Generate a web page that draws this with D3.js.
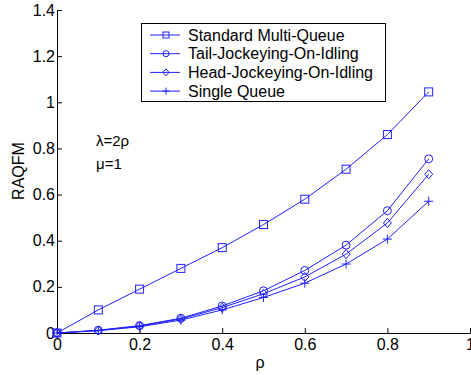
<!DOCTYPE html>
<html><head><meta charset="utf-8">
<script src="https://cdn.jsdelivr.net/npm/d3@7"></script>
<style>body{margin:0;background:#fff}svg{display:block}text{font-family:"Liberation Sans",Arial,sans-serif}</style>
</head><body><svg id="c" width="471" height="375"></svg>
<script>
const rho = [0,0.1,0.2,0.3,0.4,0.5,0.6,0.7,0.8,0.9];
const standardMQ = [0,0.10,0.19,0.28,0.37,0.47,0.58,0.71,0.86,1.045];
const tailJOI = [0,0.012,0.032,0.064,0.117,0.183,0.271,0.381,0.53,0.755];
const headJOI = [0,0.011,0.03,0.061,0.11,0.17,0.243,0.342,0.477,0.688];
const singleQ = [0,0.010,0.027,0.056,0.10,0.154,0.216,0.299,0.407,0.571];
const seriesNames = ["Standard Multi-Queue","Tail-Jockeying-On-Idling","Head-Jockeying-On-Idling","Single Queue"];
const seriesMarkers = ["square","circle","diamond","plus"];
const xTicks = [0,0.2,0.4,0.6,0.8,1];
const yTicks = [0,0.2,0.4,0.6,0.8,1,1.2,1.4];
const yTickLabels = ["0","0.2","0.4","0.6","0.8","1","1.2","1.4"];
const xTickLabels = ["0","0.2","0.4","0.6","0.8","1"];

const svg = d3.select("#c");
const x = d3.scaleLinear().domain([0,1]).range([57,470]);
const y = d3.scaleLinear().domain([0,1.4]).range([333,10]);
const color = "#2020ff";
const FONT = '"Liberation Sans",Arial,sans-serif';

// axes
const gx = svg.append("g").attr("transform","translate(0,333)")
  .call(d3.axisBottom(x).tickValues(xTicks).tickFormat((d,i)=>xTickLabels[i]).tickSizeInner(-5).tickSizeOuter(0).tickPadding(3));
const gy = svg.append("g").attr("transform","translate(57,0)")
  .call(d3.axisLeft(y).tickValues(yTicks).tickFormat((d,i)=>yTickLabels[i]).tickSizeInner(-5).tickSizeOuter(0).tickPadding(2));
[gx,gy].forEach(g=>{
  g.select(".domain").attr("stroke","#000");
  g.selectAll(".tick line").attr("stroke","#000");
  g.selectAll(".tick text").attr("font-size",16).attr("fill","#000").attr("font-family",FONT);
});
gx.selectAll(".tick text").attr("dy","0.85em");

// labels
svg.append("text").attr("transform","translate(24,171) rotate(-90)").attr("text-anchor","middle")
  .attr("font-size",16).text("RAQFM");
svg.append("text").attr("x",260).attr("y",368).attr("text-anchor","middle").attr("font-size",16).text("ρ");
svg.append("text").attr("x",96).attr("y",146).attr("font-size",15).text("λ=2ρ");
svg.append("text").attr("x",96).attr("y",169).attr("font-size",15).text("μ=1");

const line = d3.line().x((d,i)=>x(rho[i])).y(d=>y(d));
const allSeries = [standardMQ,tailJOI,headJOI,singleQ];

function marker(g, type, cx, cy){
  if(type==="square") g.append("rect").attr("x",cx-4).attr("y",cy-4).attr("width",8).attr("height",8);
  else if(type==="circle") g.append("circle").attr("cx",cx).attr("cy",cy).attr("r",4);
  else if(type==="diamond") g.append("path").attr("d",`M${cx},${cy-4.5}L${cx+4},${cy}L${cx},${cy+4.5}L${cx-4},${cy}Z`);
  else g.append("path").attr("d",`M${cx-4.5},${cy}H${cx+4.5}M${cx},${cy-4.5}V${cy+4.5}`);
}

allSeries.forEach((vals,s)=>{
  const g = svg.append("g").attr("fill","none").attr("stroke",color).attr("stroke-width",1);
  g.append("path").attr("d",line(vals));
  vals.forEach((v,i)=>marker(g, seriesMarkers[s], x(rho[i]), y(v)));
});

// legend
const lg = svg.append("g");
lg.append("rect").attr("x",141.5).attr("y",23.5).attr("width",244).attr("height",78).attr("fill","#fff").attr("stroke","#000").attr("stroke-width",1);
seriesNames.forEach((n,i)=>{
  const yy = 35 + i*18.7;
  const g = lg.append("g").attr("fill","none").attr("stroke",color).attr("stroke-width",1);
  g.append("line").attr("x1",150).attr("x2",180).attr("y1",yy).attr("y2",yy);
  const gm = lg.append("g").attr("fill","none").attr("stroke",color).attr("stroke-width",1);
  if(seriesMarkers[i]==="square") gm.append("rect").attr("x",163).attr("y",yy-3).attr("width",6).attr("height",6);
  else if(seriesMarkers[i]==="circle") gm.append("circle").attr("cx",166).attr("cy",yy).attr("r",3);
  else if(seriesMarkers[i]==="diamond") gm.append("path").attr("d",`M166,${yy-3.5}L169,${yy}L166,${yy+3.5}L163,${yy}Z`);
  else gm.append("path").attr("d",`M162.5,${yy}H169.5M166,${yy-3.5}V${yy+3.5}`);
  lg.append("text").attr("x",188).attr("y",yy+5.5).attr("font-size",16).attr("fill","#000").text(n);
});
</script></body></html>
